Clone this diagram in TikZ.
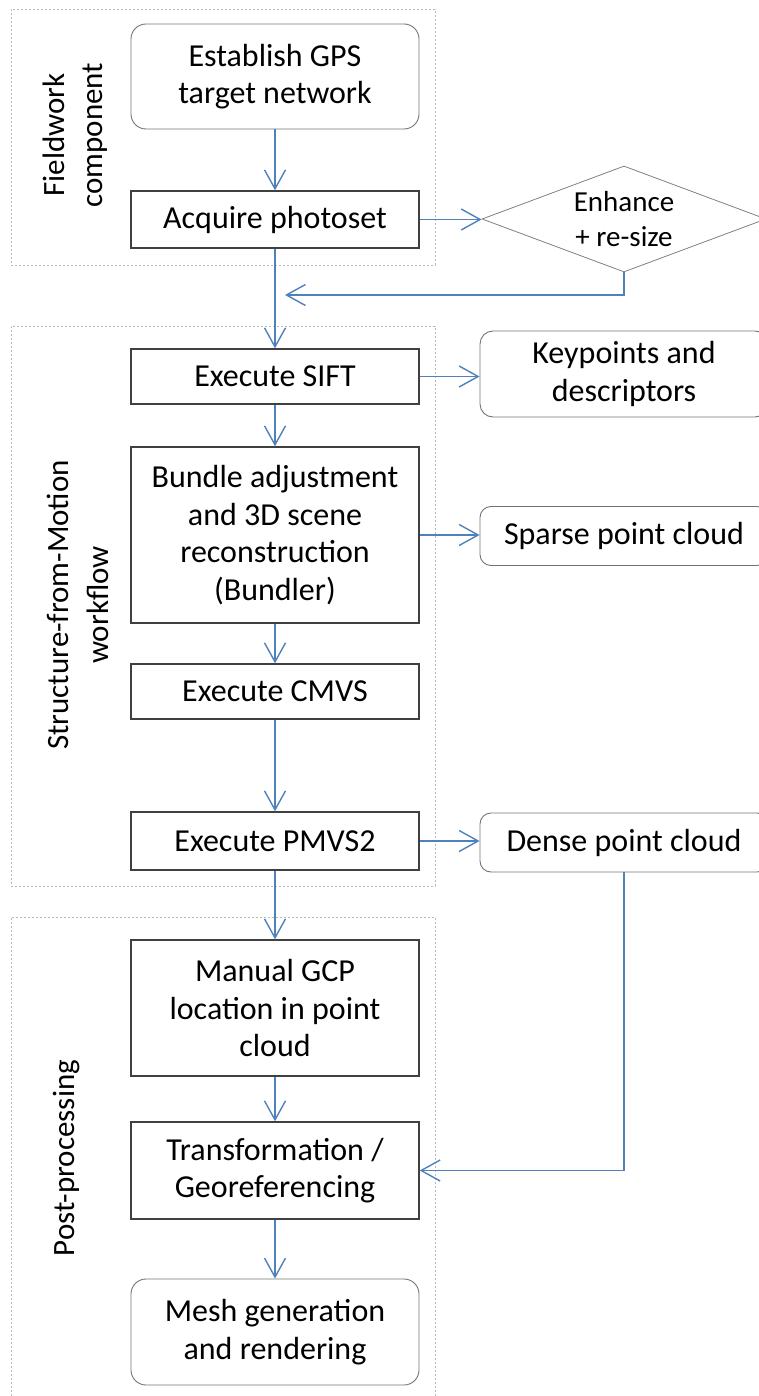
\documentclass[tikz,border=0pt]{standalone}
\usepackage{fontspec}
\setmainfont{Carlito}
\usetikzlibrary{arrows.meta,shapes.geometric}
\definecolor{arrowblue}{RGB}{79,129,189}
\begin{document}
\begin{tikzpicture}[x=1pt,y=-1pt,
  every node/.style={font=\fontsize{32}{37.5}\selectfont, align=center, inner sep=0pt},
  proc/.style={draw=black!75, line width=1.4pt, minimum width=288pt},
  term/.style={draw=black!55, line width=0.9pt, rounded corners=15pt, minimum width=288pt},
  grp/.style={draw=black!28, line width=0.7pt, dash pattern=on 2pt off 2pt},
  flow/.style={draw=arrowblue, line width=1.4pt, -{Straight Barb[length=19pt,width=21pt,line width=1.4pt]}},
  lab/.style={rotate=90, font=\fontsize{31}{40}\selectfont}
]
\useasboundingbox (0,0) rectangle (759,1396);

% group boxes
\node[grp, minimum width=424pt, minimum height=256pt] (g1) at (223,137) {};
\node[grp, minimum width=424pt, minimum height=560pt] (g2) at (223,606) {};
\node[grp, minimum width=424pt, minimum height=483pt] (g3) at (223,1158.5) {};

% group labels
\node[lab, font=\fontsize{31}{37.5}\selectfont] (l1) at (75,135) {Fieldwork\\component};
\node[lab] (l2) at (78,605) {Structure-from-Motion\\workflow};
\node[lab] (l3) at (66,1158) {Post-processing};

% main column
\node[term, minimum height=105pt] (est) at (275,76.5) {Establish GPS\\target network};
\node[proc, minimum height=57pt] (acq) at (275,219.5) {Acquire photoset};
\node[proc, minimum height=55pt] (sift) at (275,376.5) {Execute SIFT};
\node[proc, minimum height=176pt] (bund) at (275,535) {Bundle adjustment\\and 3D scene\\reconstruction\\(Bundler)};
\node[proc, minimum height=55pt] (cmvs) at (275,691.5) {Execute CMVS};
\node[proc, minimum height=58pt] (pmvs) at (275,841) {Execute PMVS2};
\node[proc, minimum height=136pt] (gcp) at (275,1008) {Manual GCP\\location in point\\cloud};
\node[proc, minimum height=97pt] (trans) at (275,1170.5) {Transformation /\\Georeferencing};
\node[term, minimum height=106pt] (mesh) at (275,1332) {Mesh generation\\and rendering};

% right column
\node[draw=black!50, line width=0.8pt, diamond, minimum width=284pt, minimum height=106pt, shape aspect=2.68, font=\fontsize{29}{35}\selectfont] (enh) at (624,219) {Enhance\\+ re-size};
\node[term, rounded corners=13pt, minimum height=86pt] (kp) at (624,374) {Keypoints and\\descriptors};
\node[term, rounded corners=11pt, minimum height=59pt] (sparse) at (624,536) {Sparse point cloud};
\node[term, rounded corners=11pt, minimum height=59pt] (dense) at (624,842.5) {Dense point cloud};

% connectors
\coordinate (fb) at (285,295);
\draw[flow] (est) -- (acq);
\draw[flow] (acq.east) -- (acq.east -| enh.west);
\draw[flow] (enh.south) |- (fb);
\draw[flow] (acq) -- (sift);
\draw[flow] (sift.east) -- (sift.east -| kp.west);
\draw[flow] (sift) -- (bund);
\draw[flow] (bund.east) -- (bund.east -| sparse.west);
\draw[flow] (bund) -- (cmvs);
\draw[flow] (cmvs) -- (pmvs);
\draw[flow] (pmvs.east) -- (pmvs.east -| dense.west);
\draw[flow] (pmvs) -- (gcp);
\draw[flow] (gcp) -- (trans);
\draw[flow] (trans) -- (mesh);
\draw[flow] (dense.south) |- (trans.east);
\end{tikzpicture}
\end{document}
